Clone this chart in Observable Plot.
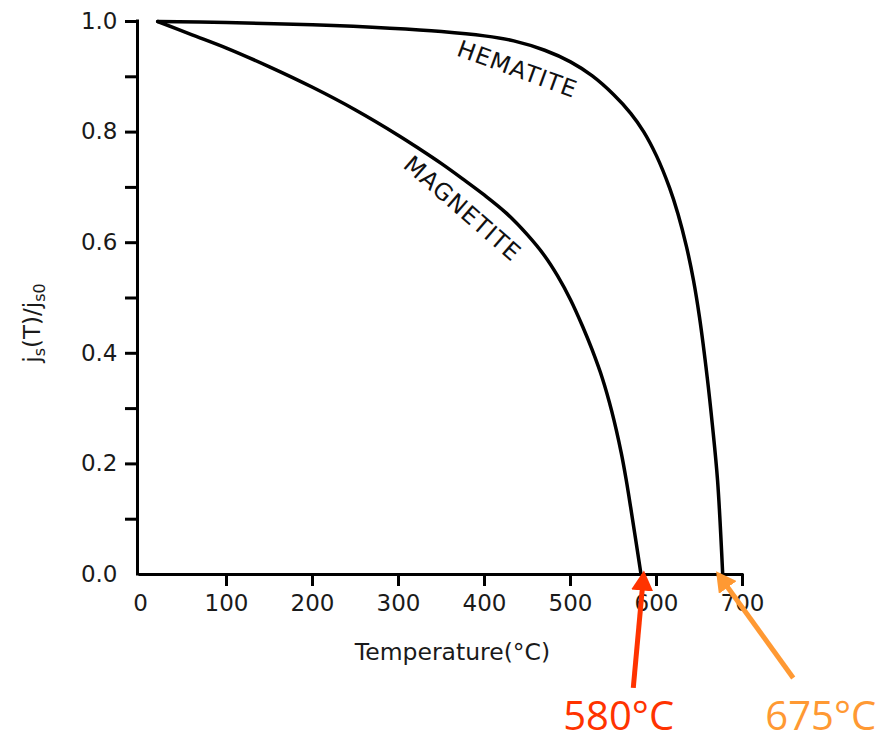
<!DOCTYPE html>
<html>
<head>
<meta charset="utf-8">
<script src="https://cdn.jsdelivr.net/npm/d3@7"></script>
<script src="https://cdn.jsdelivr.net/npm/@observablehq/plot@0.6"></script>
<style>
  html, body { margin: 0; padding: 0; background: #fff; }
  .curveLabel text { letter-spacing: 1px; }
</style>
</head>
<body>
<div id="chart"></div>
<script>
// ---- data ----
const magnetiteT = [20, 60, 100, 150, 200, 250, 300, 325, 350, 375, 400, 425, 450, 470, 485, 500, 514, 525, 537, 548, 559, 565, 570, 576, 582];
const magnetiteJ = [1.000, 0.976, 0.952, 0.918, 0.881, 0.840, 0.794, 0.769, 0.743, 0.715, 0.686, 0.654, 0.614, 0.576, 0.540, 0.497, 0.449, 0.407, 0.355, 0.295, 0.220, 0.169, 0.121, 0.061, 0.000];

const hematiteT = [20, 100, 200, 290, 350, 400, 434, 470, 500, 525, 550, 570, 585, 600, 615, 625, 635, 643, 650, 659, 665, 671, 677];
const hematiteJ = [1.000, 0.998, 0.994, 0.988, 0.982, 0.974, 0.965, 0.948, 0.927, 0.902, 0.868, 0.834, 0.801, 0.757, 0.700, 0.652, 0.592, 0.532, 0.465, 0.356, 0.270, 0.170, 0.000];

const xTickValues = [100, 200, 300, 400, 500, 600, 700];
const xLabelValues = [0, 100, 200, 300, 400, 500, 600, 700];
const yTickValues = [0.1, 0.2, 0.3, 0.4, 0.5, 0.6, 0.7, 0.8, 0.9, 1.0];
const yLabelValues = [0.0, 0.2, 0.4, 0.6, 0.8, 1.0];

const curveNames = ["HEMATITE", "MAGNETITE"];
const curveLabelT = [438, 374];
const curveLabelJ = [0.913, 0.661];
const curveLabelAngle = [20, 41];

const arrowText = ["580°C", "675°C"];
const arrowColor = ["#ff3300", "#ff9933"];
const arrowTipT = [585, 672];
const arrowTipJ = [0, 0];
const arrowTailT = [573, 759];
const arrowTailJ = [-0.205, -0.187];
const arrowTextT = [556, 791];
const arrowTextJ = [-0.282, -0.282];

const xLabel = "Temperature(°C)";
const yLabel = "js(T)/js0";

// ---- tables built from the arrays ----
const magnetite = magnetiteT.map((t, i) => ({t, j: magnetiteJ[i]}));
const hematite = hematiteT.map((t, i) => ({t, j: hematiteJ[i]}));
const curveLabels = curveNames.map((name, i) => ({name, t: curveLabelT[i], j: curveLabelJ[i], angle: curveLabelAngle[i]}));
const arrows = arrowText.map((label, i) => ({
  label, color: arrowColor[i],
  t1: arrowTailT[i], j1: arrowTailJ[i], t2: arrowTipT[i], j2: arrowTipJ[i],
  tt: arrowTextT[i], tj: arrowTextJ[i]
}));

const font = "'DejaVu Sans', 'Liberation Sans', Arial, sans-serif";

const chart = Plot.plot({
  width: 882,
  height: 737,
  marginLeft: 140,
  marginRight: 140,
  marginTop: 21,
  marginBottom: 163,
  x: {domain: [0, 700]},
  y: {domain: [0, 1]},
  style: {fontFamily: font, fontSize: "23px", color: "#1a1a1a", background: "#fff", overflow: "visible"},
  marks: [
    // axis lines
    Plot.ruleX([0], {y1: 0, y2: 1, dx: -3, stroke: "#000", strokeWidth: 3, strokeLinecap: "square"}),
    Plot.ruleY([0], {stroke: "#000", strokeWidth: 3, strokeLinecap: "square"}),
    // y ticks (every 0.1) and labels (every 0.2)
    Plot.axisY({ticks: yTickValues, tickSize: 12, strokeWidth: 3, stroke: "#000", dx: -3, tickFormat: () => "", label: null}),
    Plot.axisY({ticks: yLabelValues, tickSize: 0, tickPadding: 20, dx: -3, tickFormat: d3.format(".1f"), label: null, fill: "#1a1a1a"}),
    // x ticks and labels
    Plot.axisX({ticks: xTickValues, tickSize: 12, strokeWidth: 3, stroke: "#000", tickFormat: () => "", label: null}),
    Plot.axisX({ticks: xLabelValues, tickSize: 0, tickPadding: 20, tickFormat: d => String(d), label: null, fill: "#1a1a1a"}),
    // axis titles
    Plot.text([xLabel], {frameAnchor: "bottom", textAnchor: "middle", dx: 11, dy: 85, lineAnchor: "bottom", fontSize: 23.5, fill: "#1a1a1a"}),
    Plot.text([yLabel], {frameAnchor: "left", textAnchor: "middle", rotate: -90, dx: -101, dy: 25, lineAnchor: "bottom", fontSize: 23, fill: "#1a1a1a", className: "ylab"}),
    // curves
    Plot.line(hematite, {x: "t", y: "j", curve: "catmull-rom", stroke: "#000", strokeWidth: 3.5}),
    Plot.line(magnetite, {x: "t", y: "j", curve: "catmull-rom", stroke: "#000", strokeWidth: 3.5}),
    Plot.text(curveLabels, {x: "t", y: "j", text: "name", rotate: "angle", fontSize: 23.5, fill: "#111", className: "curveLabel"}),
    // Curie temperature arrows
    Plot.link(arrows, {x1: "t1", y1: "j1", x2: "t2", y2: "j2", stroke: "color", strokeWidth: 5, className: "curieArrow"}),
    Plot.text(arrows, {x: "tt", y: "tj", text: "label", fill: "color", fontSize: 40, lineAnchor: "bottom", fontFamily: "'Open Sans', 'Noto Sans', sans-serif"})
  ]
});

// filled arrowheads for the Curie arrows
const svg = d3.select(chart);
const defs = svg.insert("defs", ":first-child");
arrowColor.forEach((c, i) => {
  defs.append("marker")
    .attr("id", "head" + i)
    .attr("viewBox", "0 0 20 22")
    .attr("refX", 16).attr("refY", 11)
    .attr("markerWidth", 20).attr("markerHeight", 22)
    .attr("markerUnits", "userSpaceOnUse")
    .attr("orient", "auto")
    .append("path").attr("d", "M0,0L20,11L0,22Z").attr("fill", c);
});
svg.selectAll(".curieArrow path").each(function() {
  const s = (this.getAttribute("stroke") || "").toLowerCase();
  const i = arrowColor.indexOf(s);
  d3.select(this).attr("marker-end", `url(#head${i < 0 ? 0 : i})`);
});

// subscripts in the y-axis title
const yt = svg.select(".ylab text");
yt.text("");
yt.append("tspan").text("j");
yt.append("tspan").attr("font-size", 16).attr("dy", 5).text("s");
yt.append("tspan").attr("dy", -5).text("(T)/j");
yt.append("tspan").attr("font-size", 16).attr("dy", 5).text("s0");

document.getElementById("chart").appendChild(chart);
</script>
</body>
</html>
